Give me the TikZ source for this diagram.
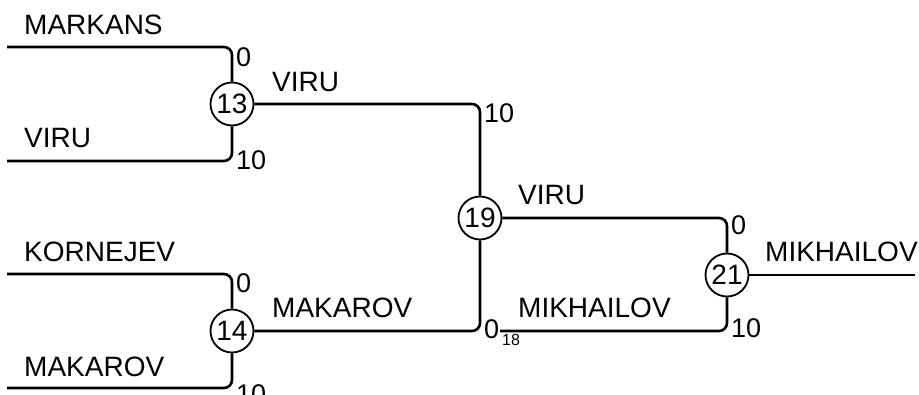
\documentclass[tikz,border=0pt]{standalone}
\usepackage{fontspec}
\setmainfont{Liberation Sans}
\usetikzlibrary{positioning}

\begin{document}
\begin{tikzpicture}[
    x=1pt, y=-1pt,
    match/.style={
        draw, circle, minimum size=43pt, inner sep=0pt, fill=white,
        line width=1.8pt, font=\fontsize{28}{30}\selectfont
    },
    team/.style={anchor=base west, inner sep=0pt, font=\fontsize{28}{30}\selectfont},
    score/.style={anchor=base west, inner sep=0pt, font=\fontsize{27}{29}\selectfont},
    link/.style={line width=2.6pt, rounded corners=8pt}
]
    \useasboundingbox (0,0) rectangle (919,395);

    % matches
    \node[match] (m13) at (232,104) {13};
    \node[match] (m14) at (232,331) {14};
    \node[match] (m19) at (480,218) {19};
    \node[match] (m21) at (727,275) {21};

    % free line ends
    \coordinate (markans) at (7,47);
    \coordinate (viru) at (7,161);
    \coordinate (kornejev) at (7,274);
    \coordinate (makarov) at (7,388);
    \coordinate (mikhailov) at (500,331);
    \coordinate (winner) at (915,275);

    \draw[link] (markans) -| (m13);
    \draw[link] (viru) -| (m13);
    \draw[link] (kornejev) -| (m14);
    \draw[link] (makarov) -| (m14);
    \draw[link] (m13) -| (m19);
    \draw[link] (m14) -| (m19);
    \draw[link] (m19) -| (m21);
    \draw[link] (mikhailov) -| (m21);
    \draw[link] (m21) -- (winner);

    % team names
    \node[team] at (24,35) {MARKANS};
    \node[team] at (24,148) {VIRU};
    \node[team] at (24,262) {KORNEJEV};
    \node[team] at (24,377) {MAKAROV};
    \node[team] at (272,92) {VIRU};
    \node[team] at (272,318) {MAKAROV};
    \node[team] at (518,205) {VIRU};
    \node[team] at (518,318) {MIKHAILOV};
    \node[team] at (765,262) {MIKHAILOV};

    % scores
    \node[score] at (236,67) {0};
    \node[score] at (236,170) {10};
    \node[score] at (236,293) {0};
    \node[score] at (236,403) {10};
    \node[score] at (484,123) {10};
    \node[score] (s0) at (484,339) {0};
    \node[score, font=\fontsize{16}{17}\selectfont] at (502,346) {18};
    \node[score] at (731,235) {0};
    \node[score] at (731,338) {10};
\end{tikzpicture}
\end{document}
